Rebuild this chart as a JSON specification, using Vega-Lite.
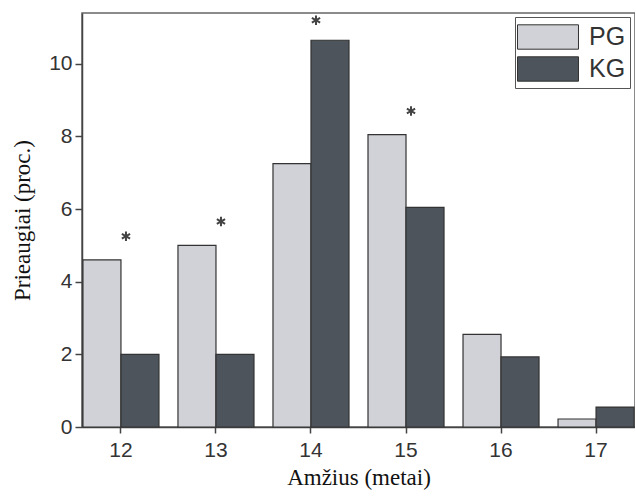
{
  "$schema": "https://vega.github.io/schema/vega-lite/v6.json",
  "autosize": {"type": "none"},
  "padding": {"left": 82, "top": 13, "right": 0, "bottom": 69},
  "width": 553,
  "height": 414,
  "background": "white",
  "datasets": {
    "bars": [
      {"age": "12", "group": "PG", "value": 4.6},
      {"age": "12", "group": "KG", "value": 2.0},
      {"age": "13", "group": "PG", "value": 5.0},
      {"age": "13", "group": "KG", "value": 2.0},
      {"age": "14", "group": "PG", "value": 7.25},
      {"age": "14", "group": "KG", "value": 10.65},
      {"age": "15", "group": "PG", "value": 8.05},
      {"age": "15", "group": "KG", "value": 6.05},
      {"age": "16", "group": "PG", "value": 2.55},
      {"age": "16", "group": "KG", "value": 1.93},
      {"age": "17", "group": "PG", "value": 0.22},
      {"age": "17", "group": "KG", "value": 0.55}
    ],
    "stars": [
      {"age": "12", "star": 5.25},
      {"age": "13", "star": 5.66},
      {"age": "14", "star": 11.2},
      {"age": "15", "star": 8.7}
    ]
  },
  "layer": [
    {
      "data": {"name": "bars"},
      "mark": {"type": "bar", "stroke": "#333333", "strokeWidth": 1.2},
      "encoding": {
        "x": {
          "field": "age",
          "type": "ordinal",
          "scale": {"paddingInner": 0.2, "paddingOuter": 0.01},
          "axis": {
            "title": "Amžius (metai)",
            "labelAngle": 0,
            "tickSize": 6,
            "labelPadding": 6,
            "titlePadding": 6
          }
        },
        "xOffset": {"field": "group", "type": "nominal", "sort": ["PG", "KG"]},
        "y": {
          "field": "value",
          "type": "quantitative",
          "scale": {"domain": [0, 11.4], "nice": false},
          "axis": {
            "title": "Prieaugiai (proc.)",
            "values": [0, 1, 2, 3, 4, 5, 6, 7, 8, 9, 10, 11],
            "labelExpr": "datum.value % 2 === 0 ? datum.label : ''",
            "tickSize": {"condition": {"test": "datum.value % 2 === 1", "value": 4}, "value": 7},
            "labelPadding": 3,
            "titlePadding": 14,
            "grid": false
          }
        },
        "color": {
          "field": "group",
          "type": "nominal",
          "sort": ["PG", "KG"],
          "scale": {"domain": ["PG", "KG"], "range": ["#d1d2d7", "#4e545c"]},
          "legend": {
            "title": null,
            "orient": "none",
            "legendX": 433,
            "legendY": 4,
            "symbolType": "M-2,-0.8H2V0.8H-2Z",
            "symbolSize": 930,
            "symbolOffset": 13,
            "symbolStrokeColor": "#333333",
            "symbolStrokeWidth": 1,
            "strokeColor": "#555555",
            "fillColor": "white",
            "padding": 4,
            "rowPadding": 1,
            "labelFontSize": 25,
            "labelOffset": 25,
            "labelColor": "#333333",
            "labelFont": "Liberation Sans"
          }
        }
      }
    },
    {
      "data": {"name": "stars"},
      "mark": {
        "type": "point",
        "shape": "M0,-1L0,1M-0.87,-0.5L0.87,0.5M-0.87,0.5L0.87,-0.5",
        "filled": false,
        "stroke": "#444444",
        "strokeWidth": 2,
        "size": 90,
        "xOffset": 5,
        "opacity": 1
      },
      "encoding": {
        "x": {"field": "age", "type": "ordinal"},
        "y": {"field": "star", "type": "quantitative"}
      }
    }
  ],
  "config": {
    "view": {"stroke": "#666666", "strokeWidth": 1.5},
    "axis": {
      "labelFont": "Liberation Sans",
      "labelFontSize": 21,
      "labelColor": "#333333",
      "titleFont": "Liberation Serif",
      "titleFontSize": 23,
      "titleFontWeight": "normal",
      "titleColor": "#111111",
      "domainColor": "#444444",
      "domainWidth": 1.5,
      "tickColor": "#444444",
      "tickWidth": 1.5
    }
  }
}
